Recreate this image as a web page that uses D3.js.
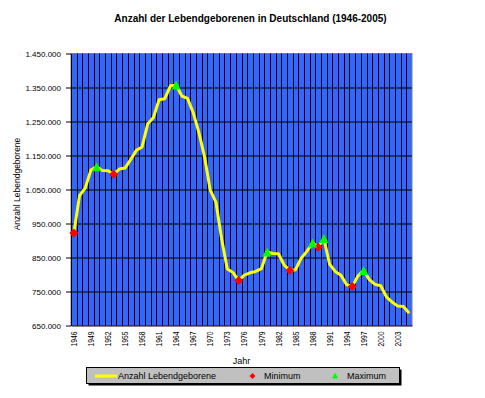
<!DOCTYPE html>
<html>
<head>
<meta charset="utf-8">
<script src="https://cdn.jsdelivr.net/npm/d3@7"></script>
<style>
  html, body { margin: 0; padding: 0; background: #fff; }
  svg { display: block; font-family: "Liberation Sans", Arial, sans-serif; }
</style>
</head>
<body>
<div id="chart"></div>
<script>
// ─── data ────────────────────────────────────────────────────────────────
const years = [
    1946, 1947, 1948, 1949, 1950, 1951, 1952, 1953, 1954, 1955,
    1956, 1957, 1958, 1959, 1960, 1961, 1962, 1963, 1964, 1965,
    1966, 1967, 1968, 1969, 1970, 1971, 1972, 1973, 1974, 1975,
    1976, 1977, 1978, 1979, 1980, 1981, 1982, 1983, 1984, 1985,
    1986, 1987, 1988, 1989, 1990, 1991, 1992, 1993, 1994, 1995,
    1996, 1997, 1998, 1999, 2000, 2001, 2002, 2003, 2004, 2005
];
const births = [
    922000, 1032000, 1054000, 1107000, 1117000, 1106000, 1105000, 1095000, 1110000, 1113000,
    1138000, 1165000, 1175000, 1243000, 1262000, 1314000, 1317000, 1355000, 1357000, 1325000,
    1318000, 1276000, 1218000, 1146000, 1048000, 1013000, 905000, 816000, 806000, 782000,
    798000, 805000, 809000, 817000, 866000, 862000, 861000, 828000, 812000, 814000,
    848000, 868000, 893000, 880000, 906000, 830000, 809000, 798000, 770000, 765000,
    796000, 812000, 785000, 771000, 767000, 734000, 719000, 707000, 706000, 686000
];
const minYears = [1946, 1953, 1975, 1984, 1989, 1995];
const maxYears = [1950, 1964, 1980, 1988, 1990, 1997];
const yTicks = [650000, 750000, 850000, 950000, 1050000, 1150000, 1250000, 1350000, 1450000];
const xLabelYears = [1946, 1949, 1952, 1955, 1958, 1961, 1964, 1967, 1970, 1973,
                     1976, 1979, 1982, 1985, 1988, 1991, 1994, 1997, 2000, 2003];

// ─── colours / layout ────────────────────────────────────────────────────
const COLOR_PLOT = "#3366ff";
const COLOR_LINE = "#ffff00";
const COLOR_MIN = "#ff0000";
const COLOR_MAX = "#00ff00";
const COLOR_LEGEND = "#c0c0c0";

const W = 485, H = 398;
const plot = { left: 71, right: 412, top: 53.5, bottom: 325.5 };

const de = d3.formatLocale({ decimal: ",", thousands: ".", grouping: [3], currency: ["", " €"] });
const fmt = de.format(",d");

const svg = d3.select("#chart").append("svg")
    .attr("width", W)
    .attr("height", H);

const x = d3.scaleBand()
    .domain(years)
    .range([plot.left, plot.right])
    .padding(0);
const cx = yr => x(yr) + x.bandwidth() / 2;

const y = d3.scaleLinear()
    .domain([650000, 1450000])
    .range([plot.bottom, plot.top]);

const byYear = new Map(years.map((yr, i) => [yr, births[i]]));

// plot area background
svg.append("rect")
    .attr("x", plot.left).attr("y", plot.top)
    .attr("width", plot.right - plot.left).attr("height", plot.bottom - plot.top)
    .attr("fill", COLOR_PLOT)
    .attr("stroke", "#808080");

// vertical gridlines at category boundaries
const boundaries = years.map(yr => x(yr)).concat([plot.right]).slice(1, -1);
svg.append("g")
    .selectAll("line")
    .data(boundaries)
    .join("line")
    .attr("x1", d => Math.round(d) + 0.5).attr("x2", d => Math.round(d) + 0.5)
    .attr("y1", plot.top).attr("y2", plot.bottom)
    .attr("stroke", "#000")
    .attr("stroke-width", 1);

// horizontal gridlines
svg.append("g")
    .attr("transform", `translate(${plot.left},0)`)
    .call(d3.axisLeft(y).tickValues(yTicks.slice(1, -1)).tickSize(-(plot.right - plot.left)).tickFormat(""))
    .call(g => g.select(".domain").remove())
    .call(g => g.selectAll("line").attr("stroke", "#000"));

// y axis
svg.append("g")
    .attr("transform", `translate(${plot.left},0)`)
    .call(d3.axisLeft(y).tickValues(yTicks).tickSize(5).tickPadding(5).tickSizeOuter(0).tickFormat(fmt))
    .call(g => g.select(".domain").attr("stroke", "#000"))
    .call(g => g.selectAll("line").attr("stroke", "#000"))
    .call(g => g.selectAll("text")
        .attr("fill", "#000")
        .style("font-family", "'Liberation Sans', Arial, sans-serif")
        .style("font-size", "8px"));

// x axis
svg.append("g")
    .attr("transform", `translate(0,${plot.bottom})`)
    .call(d3.axisBottom(x).tickValues(xLabelYears).tickSize(0).tickSizeOuter(0))
    .call(g => g.select(".domain").attr("stroke", "#000"))
    .call(g => g.selectAll("text")
        .attr("fill", "#000")
        .attr("x", -6).attr("y", 0).attr("dy", "0.35em")
        .attr("transform", "rotate(-90)")
        .attr("textLength", 15)
        .attr("lengthAdjust", "spacingAndGlyphs")
        .style("text-anchor", "end")
        .style("font-family", "'Liberation Sans', Arial, sans-serif")
        .style("font-size", "9px"));

// series line
const line = d3.line()
    .x((d, i) => cx(years[i]))
    .y(d => y(d));

svg.append("path")
    .datum(births)
    .attr("d", line)
    .attr("fill", "none")
    .attr("stroke", COLOR_LINE)
    .attr("stroke-width", 3)
    .attr("stroke-linejoin", "round");

// marker shapes
const diamond = r => `M0,${-r}L${r},0L0,${r}L${-r},0Z`;
const triangle = r => `M0,${-r}L${r},${r}L${-r},${r}Z`;

svg.append("g")
    .selectAll("path")
    .data(minYears)
    .join("path")
    .attr("transform", d => `translate(${cx(d)},${y(byYear.get(d))})`)
    .attr("d", diamond(4.5))
    .attr("fill", COLOR_MIN);

svg.append("g")
    .selectAll("path")
    .data(maxYears)
    .join("path")
    .attr("transform", d => `translate(${cx(d)},${y(byYear.get(d))})`)
    .attr("d", triangle(4.5))
    .attr("fill", COLOR_MAX);

// title and axis titles
svg.append("text")
    .attr("x", 250.5).attr("y", 21.5)
    .attr("text-anchor", "middle")
    .style("font-size", "10px")
    .style("font-weight", "bold")
    .text("Anzahl der Lebendgeborenen in Deutschland (1946-2005)");

svg.append("text")
    .attr("transform", "translate(19.5,184) rotate(-90)")
    .attr("text-anchor", "middle")
    .style("font-size", "8.5px")
    .text("Anzahl Lebendgeborene");

svg.append("text")
    .attr("x", 241.5).attr("y", 364)
    .attr("text-anchor", "middle")
    .style("font-size", "9px")
    .text("Jahr");

// legend
const lg = svg.append("g");
lg.append("rect")
    .attr("x", 88.5).attr("y", 369.5).attr("width", 313).attr("height", 16)
    .attr("fill", "#000");
lg.append("rect")
    .attr("x", 86.5).attr("y", 367.5).attr("width", 313).attr("height", 16)
    .attr("fill", COLOR_LEGEND).attr("stroke", "#000");

lg.append("line")
    .attr("x1", 95).attr("x2", 117).attr("y1", 376).attr("y2", 376)
    .attr("stroke", COLOR_LINE).attr("stroke-width", 3);
lg.append("path")
    .attr("transform", "translate(252.5,376)")
    .attr("d", diamond(3)).attr("fill", COLOR_MIN);
lg.append("path")
    .attr("transform", "translate(335,375.5)")
    .attr("d", triangle(3)).attr("fill", COLOR_MAX);

const legendItems = [
    { label: "Anzahl Lebendgeborene", tx: 118 },
    { label: "Minimum", tx: 264 },
    { label: "Maximum", tx: 347 }
];
lg.selectAll("text.item")
    .data(legendItems)
    .join("text")
    .attr("class", "item")
    .attr("x", d => d.tx).attr("y", 376)
    .attr("dy", "0.35em")
    .style("font-size", "9px")
    .text(d => d.label);
</script>
</body>
</html>
